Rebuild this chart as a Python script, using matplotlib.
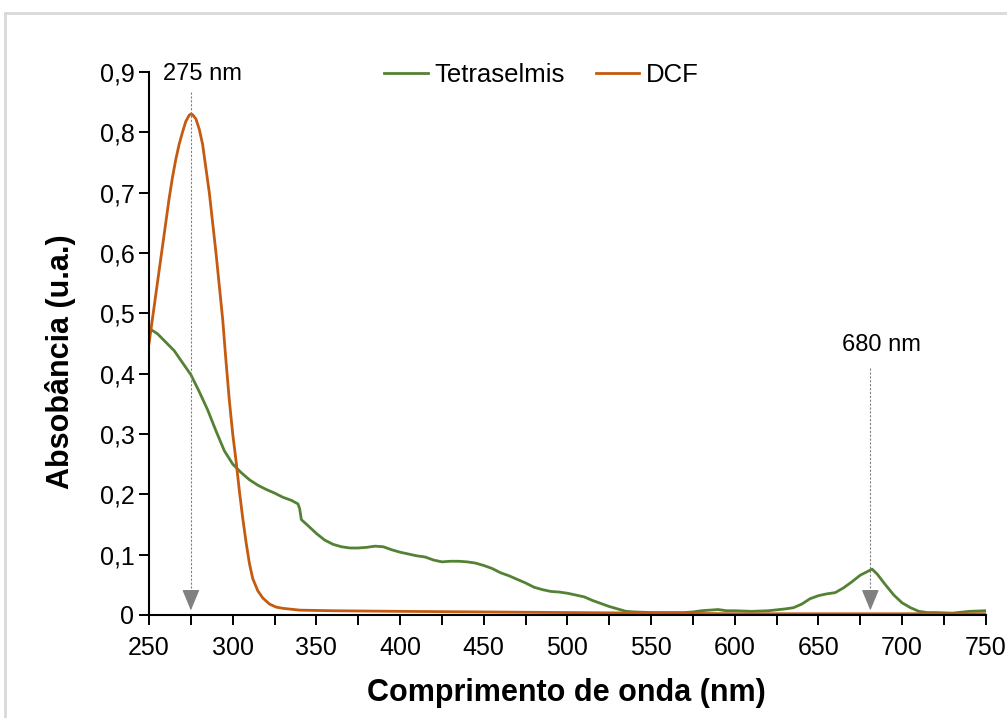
import matplotlib
matplotlib.use("Agg")
import matplotlib.pyplot as plt
from matplotlib.lines import Line2D
from matplotlib.ticker import FuncFormatter, MultipleLocator

plt.rcParams['font.family'] = ['Liberation Sans', 'DejaVu Sans']

# ---- data ----
dcf_nm = [250, 252, 254, 256, 258, 260, 262, 264, 266, 268, 270, 272, 274, 275,
          276, 278, 280, 282, 284, 286, 288, 290, 292, 294, 296, 298, 300, 302,
          304, 306, 308, 310, 312, 315, 318, 322, 326, 330, 340, 360, 400, 450,
          500, 550, 600, 650, 700, 750]
dcf_abs = [0.45, 0.49, 0.53, 0.57, 0.61, 0.65, 0.69, 0.725, 0.755, 0.78, 0.80,
           0.818, 0.828, 0.83, 0.829, 0.822, 0.805, 0.78, 0.74, 0.70, 0.65, 0.60,
           0.545, 0.49, 0.42, 0.355, 0.30, 0.255, 0.205, 0.16, 0.12, 0.085,
           0.06, 0.04, 0.028, 0.018, 0.013, 0.011, 0.008, 0.007, 0.006, 0.005,
           0.004, 0.003, 0.002, 0.002, 0.002, 0.002]

tet_nm = [250, 255, 260, 265, 270, 275, 280, 285, 290, 295, 300, 305, 310, 315,
          320, 325, 330, 335, 339, 340, 341, 345, 350, 355, 360, 365, 370, 375,
          380, 385, 390, 395, 400, 405, 410, 415, 420, 425, 430, 435, 440, 445,
          450, 455, 460, 465, 470, 475, 480, 485, 490, 495, 500, 505, 510, 515,
          520, 525, 530, 535, 540, 550, 560, 570, 575, 580, 585, 590, 595, 600,
          610, 620, 630, 635, 640, 645, 650, 655, 660, 665, 670, 675, 680, 682,
          685, 690, 695, 700, 705, 710, 715, 720, 730, 740, 750]
tet_abs = [0.475, 0.466, 0.452, 0.438, 0.418, 0.398, 0.370, 0.340, 0.305, 0.272,
           0.250, 0.236, 0.224, 0.215, 0.208, 0.202, 0.195, 0.190, 0.184, 0.176,
           0.158, 0.148, 0.135, 0.124, 0.117, 0.113, 0.111, 0.111, 0.112, 0.114,
           0.113, 0.108, 0.104, 0.101, 0.098, 0.096, 0.091, 0.088, 0.089, 0.089,
           0.088, 0.086, 0.082, 0.077, 0.070, 0.065, 0.059, 0.053, 0.046, 0.042,
           0.039, 0.038, 0.036, 0.033, 0.030, 0.024, 0.019, 0.014, 0.010, 0.006,
           0.005, 0.004, 0.004, 0.004, 0.005, 0.007, 0.008, 0.009, 0.007, 0.007,
           0.006, 0.007, 0.010, 0.012, 0.018, 0.027, 0.032, 0.035, 0.037, 0.045,
           0.055, 0.066, 0.073, 0.076, 0.068, 0.050, 0.033, 0.020, 0.012, 0.006,
           0.004, 0.004, 0.003, 0.006, 0.007]

peaks_nm = [275, 681]
peak_labels = ['275 nm', '680 nm']

green = '#548235'
orange = '#C55A11'
arrow_grey = '#808080'

fig = plt.figure(figsize=(10.07, 7.18), dpi=100)
ax = fig.add_axes([0.148, 0.1435, 0.831, 0.7565])

ax.plot(tet_nm, tet_abs, color=green, lw=2, label='Tetraselmis')
ax.plot(dcf_nm, dcf_abs, color=orange, lw=2, label='DCF')

# peak markers: dashed line + arrow head
starts = [0.867, 0.41]
text_pos = [(282, 0.897), (687.5, 0.448)]
for nm, y0, lab, (tx, ty) in zip(peaks_nm, starts, peak_labels, text_pos):
    ax.plot([nm, nm], [y0, 0.02], color=arrow_grey, lw=0.8, ls=(0, (2, 1.5)))
    ax.annotate('', xy=(nm, 0.003), xytext=(nm, 0.035),
                arrowprops=dict(arrowstyle='-|>,head_length=0.6,head_width=0.25',
                                color=arrow_grey, lw=0.8, mutation_scale=22))
    ax.text(tx, ty, lab, ha='center', va='center', fontsize=17)

ax.set_xlim(250, 750)
ax.set_ylim(0, 0.9)
ax.xaxis.set_major_locator(MultipleLocator(50))
ax.xaxis.set_minor_locator(MultipleLocator(25))
ax.yaxis.set_major_locator(MultipleLocator(0.1))
ax.yaxis.set_major_formatter(FuncFormatter(
    lambda v, p: '0' if abs(v) < 1e-9 else f'{v:.1f}'.replace('.', ',')))

for s in ['top', 'right']:
    ax.spines[s].set_visible(False)
for s in ['left', 'bottom']:
    ax.spines[s].set_linewidth(1.5)
ax.tick_params(which='both', direction='out', length=7, width=1.4, labelsize=18)
ax.tick_params(axis='x', pad=8)

ax.set_xlabel('Comprimento de onda (nm)', fontsize=22, fontweight='bold')
ax.set_ylabel('Absobância (u.a.)', fontsize=22, fontweight='bold')
ax.xaxis.set_label_coords(0.499, -0.116)
ax.yaxis.set_label_coords(-0.087, 0.466)

ax.legend(loc='center', bbox_to_anchor=(0.469, 0.995), ncol=2, frameon=False,
          fontsize=18.5, handlelength=1.7, columnspacing=1.2, handletextpad=0.25)

# light grey frame around the chart area
fig.add_artist(Line2D([0.005, 1.0], [0.982, 0.982], color='#d9d9d9', lw=2))
fig.add_artist(Line2D([0.005, 0.005], [0.0, 0.982], color='#d9d9d9', lw=2))

fig.savefig('out.png', dpi=100)
